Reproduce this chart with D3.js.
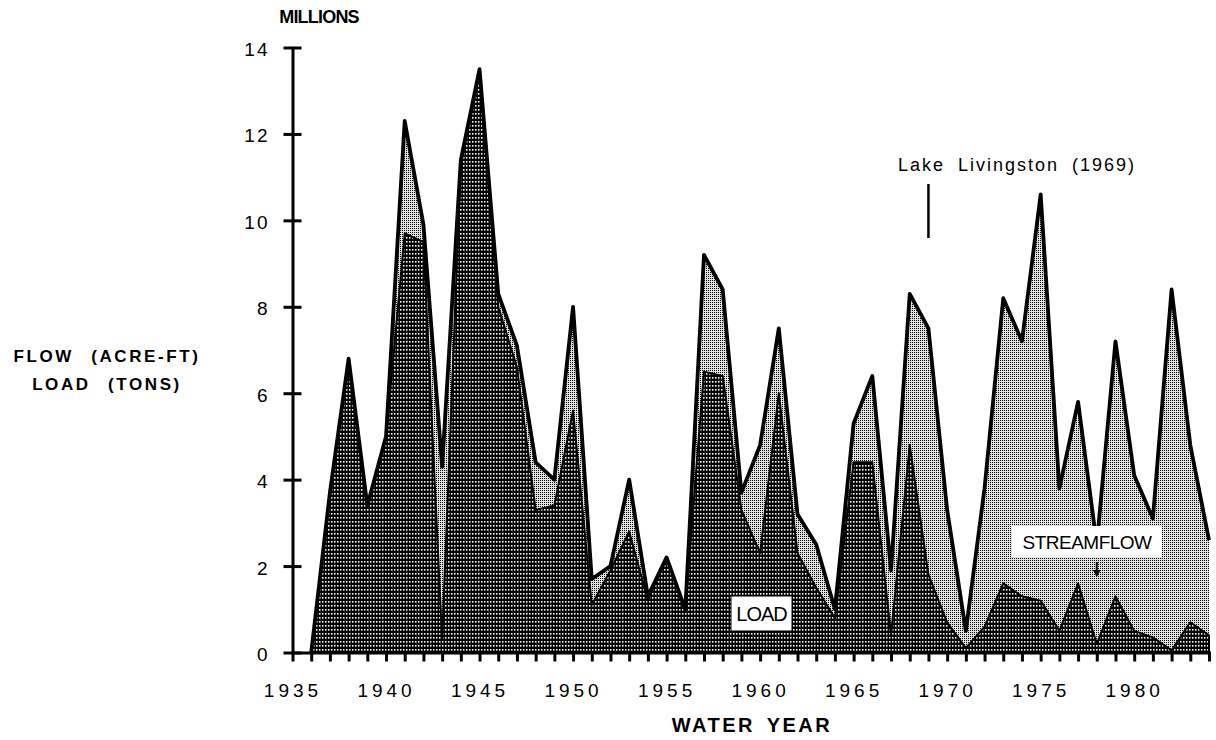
<html>
    <style>
        body {
            margin: 0;
            background: #fff;
        }

        svg {
            font-family: 'Liberation Sans', Arial, Helvetica, sans-serif;
        }

        .y .tick line, .x .tick line {
            stroke: #000;
            stroke-width: 3;
        }

        .y .domain, .x .domain {
            stroke: #000;
            stroke-width: 3;
        }

        .tick text {
            font-size: 19px;
            fill: #000;
        }

        .x .tick text {
            letter-spacing: 4px;
        }

        .y .tick text {
            letter-spacing: 2px;
        }
    </style>

    <body>
        <svg width="1216" height="740"></svg>

        <script src="https://cdn.jsdelivr.net/npm/d3@7/dist/d3.min.js"></script>

        <script>
            // water years 1936-1984, values in millions
            let years = [1936, 1937, 1938, 1939, 1940, 1941, 1942, 1943, 1944, 1945,
                         1946, 1947, 1948, 1949, 1950, 1951, 1952, 1953, 1954, 1955,
                         1956, 1957, 1958, 1959, 1960, 1961, 1962, 1963, 1964, 1965,
                         1966, 1967, 1968, 1969, 1970, 1971, 1972, 1973, 1974, 1975,
                         1976, 1977, 1978, 1979, 1980, 1981, 1982, 1983, 1984]

            // streamflow, acre-ft
            let streamflow = [0, 3.7, 6.8, 3.4, 5.0, 12.3, 9.9, 4.3, 11.4, 13.5,
                              8.3, 7.1, 4.4, 4.0, 8.0, 1.7, 2.0, 4.0, 1.3, 2.2,
                              1.0, 9.2, 8.4, 3.7, 4.8, 7.5, 3.2, 2.5, 1.0, 5.3,
                              6.4, 1.9, 8.3, 7.5, 3.3, 0.5, 3.8, 8.2, 7.2, 10.6,
                              3.8, 5.8, 2.5, 7.2, 4.1, 3.1, 8.4, 4.8, 2.6]

            // load, tons
            let load = [0, 3.7, 6.8, 3.4, 5.0, 9.7, 9.5, 0.3, 11.3, 13.4,
                        8.0, 6.6, 3.3, 3.4, 5.6, 1.1, 1.9, 2.8, 1.2, 2.2,
                        1.0, 6.5, 6.4, 3.3, 2.3, 6.0, 2.3, 1.5, 0.8, 4.4,
                        4.4, 0.4, 4.8, 1.8, 0.7, 0.1, 0.6, 1.6, 1.3, 1.2,
                        0.5, 1.6, 0.2, 1.3, 0.5, 0.35, 0.05, 0.7, 0.4]

            let xTicks = [1935, 1936, 1937, 1938, 1939, 1940, 1941, 1942, 1943, 1944,
                          1945, 1946, 1947, 1948, 1949, 1950, 1951, 1952, 1953, 1954,
                          1955, 1956, 1957, 1958, 1959, 1960, 1961, 1962, 1963, 1964,
                          1965, 1966, 1967, 1968, 1969, 1970, 1971, 1972, 1973, 1974,
                          1975, 1976, 1977, 1978, 1979, 1980, 1981, 1982, 1983, 1984]
            let xLabels = [1935, 1940, 1945, 1950, 1955, 1960, 1965, 1970, 1975, 1980]
            let yTicks = [0, 2, 4, 6, 8, 10, 12, 14]

            let svg = d3.select("svg")

            let margin = {top: 47.5, right: 7, bottom: 87.5, left: 292.5}
            let width = 1216
            let height = 740

            let data = years.map((yr, i) => ({year: yr, flow: streamflow[i], load: load[i]}))

            let x = d3.scaleLinear()
                .domain([1935, 1984])
                .range([margin.left, width - margin.right])

            let y = d3.scaleLinear()
                .domain([0, 14])
                .range([height - margin.bottom, margin.top])

            // stipple patterns
            let defs = svg.append("defs")

            let light = defs.append("pattern")
                .attr("id", "lightDots")
                .attr("patternUnits", "userSpaceOnUse")
                .attr("width", 2)
                .attr("height", 2)
            light.append("rect").attr("width", 2).attr("height", 2).attr("fill", "#e0e0e0")
            light.append("rect").attr("x", 0).attr("y", 0).attr("width", 1).attr("height", 1).attr("fill", "#000")

            let dark = defs.append("pattern")
                .attr("id", "darkDots")
                .attr("patternUnits", "userSpaceOnUse")
                .attr("width", 3)
                .attr("height", 4)
            dark.append("rect").attr("width", 3).attr("height", 4).attr("fill", "#000")
            dark.append("rect").attr("x", 1).attr("y", 1).attr("width", 1.5).attr("height", 1.6).attr("fill", "#fff")

            let flowArea = d3.area()
                .x(d => x(d.year))
                .y0(y(0))
                .y1(d => y(d.flow))

            let loadArea = d3.area()
                .x(d => x(d.year))
                .y0(y(0))
                .y1(d => y(d.load))

            svg.append("path")
                .datum(data)
                .attr("class", "flow")
                .attr("d", flowArea)
                .style("fill", "url(#lightDots)")

            svg.append("path")
                .datum(data)
                .attr("class", "load")
                .attr("d", loadArea)
                .style("fill", "url(#darkDots)")
                .style("stroke", "#000")
                .style("stroke-width", 2)
                .style("stroke-linejoin", "round")

            svg.append("path")
                .datum(data)
                .attr("class", "flow-line")
                .attr("d", d3.line().x(d => x(d.year)).y(d => y(d.flow)))
                .style("fill", "none")
                .style("stroke", "#000")
                .style("stroke-width", 3.8)
                .style("stroke-linejoin", "round")

            // axes
            let yAxisSettings = d3.axisLeft(y)
                .tickValues(yTicks)
                .tickSize(9)
                .tickSizeOuter(0)
                .tickPadding(14)

            let yAxisTicks = svg.append("g")
                .attr("class", "y axis")
                .attr("transform", `translate(${margin.left}, 0)`)
                .call(yAxisSettings)

            yAxisTicks.selectAll(".tick line").attr("x2", -9).attr("x1", 9)
            yAxisTicks.selectAll(".tick text").attr("dy", "0.42em")

            let xAxisSettings = d3.axisBottom(x)
                .tickValues(xTicks)
                .tickSize(9)
                .tickSizeOuter(0)
                .tickPadding(22)
                .tickFormat(d => xLabels.includes(d) ? d : "")

            let xAxisTicks = svg.append("g")
                .attr("class", "x axis")
                .attr("transform", `translate(0, ${height - margin.bottom})`)
                .call(xAxisSettings)

            xAxisTicks.selectAll(".tick line").attr("y1", -1)

            // titles
            svg.append("text")
                .attr("x", 319)
                .attr("y", 23)
                .attr("text-anchor", "middle")
                .style("font-size", "18px")
                .style("font-weight", "bold")
                .style("letter-spacing", "-0.8px")
                .text("MILLIONS")

            svg.append("text")
                .attr("x", 752)
                .attr("y", 732)
                .attr("text-anchor", "middle")
                .style("font-size", "20px")
                .style("font-weight", "bold")
                .style("letter-spacing", "2.5px")
                .style("word-spacing", "4px")
                .text("WATER YEAR")

            svg.append("text")
                .attr("x", 107)
                .attr("y", 362)
                .attr("text-anchor", "middle")
                .style("font-size", "17px")
                .style("font-weight", "bold")
                .style("letter-spacing", "2.6px")
                .style("word-spacing", "10px")
                .text("FLOW (ACRE-FT)")

            svg.append("text")
                .attr("x", 107)
                .attr("y", 390)
                .attr("text-anchor", "middle")
                .style("font-size", "17px")
                .style("font-weight", "bold")
                .style("letter-spacing", "2.6px")
                .style("word-spacing", "10px")
                .text("LOAD (TONS)")

            // Lake Livingston note
            svg.append("text")
                .attr("x", 898)
                .attr("y", 171)
                .style("font-size", "18px")
                .style("letter-spacing", "2px")
                .style("word-spacing", "6px")
                .text("Lake Livingston (1969)")

            svg.append("line")
                .attr("x1", x(1969))
                .attr("x2", x(1969))
                .attr("y1", 184)
                .attr("y2", 238)
                .style("stroke", "#000")
                .style("stroke-width", 2.5)

            // in-chart labels
            svg.append("rect")
                .attr("x", 731)
                .attr("y", 596)
                .attr("width", 61)
                .attr("height", 35)
                .style("fill", "#fff")
                .style("stroke", "#000")
                .style("stroke-width", 1)

            svg.append("text")
                .attr("x", 761.5)
                .attr("y", 621)
                .attr("text-anchor", "middle")
                .style("font-size", "20px")
                .style("letter-spacing", "-1px")
                .text("LOAD")

            svg.append("rect")
                .attr("x", 1012)
                .attr("y", 526)
                .attr("width", 150)
                .attr("height", 31)
                .style("fill", "#fff")

            svg.append("text")
                .attr("x", 1087)
                .attr("y", 549)
                .attr("text-anchor", "middle")
                .style("font-size", "19px")
                .style("letter-spacing", "-0.5px")
                .text("STREAMFLOW")

            svg.append("line")
                .attr("x1", x(1978))
                .attr("x2", x(1978))
                .attr("y1", 562)
                .attr("y2", 574)
                .style("stroke", "#000")
                .style("stroke-width", 2)

            svg.append("path")
                .attr("d", `M${x(1978) - 4},${570} L${x(1978) + 4},${570} L${x(1978)},${577} Z`)
                .style("fill", "#000")
        </script>
    </body>
</html>
